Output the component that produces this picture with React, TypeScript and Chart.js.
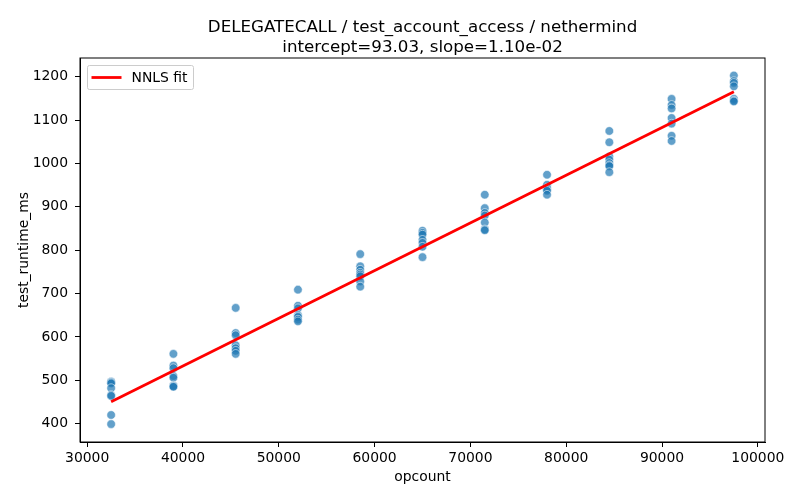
import React, { useEffect, useRef } from 'react';
import Chart from 'chart.js/auto';

// opcount levels and measured runtimes at each level (ms)
const opcountLevels = [32500, 39000, 45500, 52000, 58500, 65000, 71500, 78000, 84500, 91000, 97500];
const runtime32500 = [497, 495, 493, 482, 466, 464, 420, 399];
const runtime39000 = [561, 534, 528, 510, 506, 488, 486, 485];
const runtime45500 = [667, 609, 604, 581, 574, 568, 561];
const runtime52000 = [709, 672, 666, 651, 648, 646, 640, 636];
const runtime58500 = [791, 763, 755, 748, 744, 740, 728, 716];
const runtime65000 = [845, 840, 836, 824, 817, 808, 784];
const runtime71500 = [928, 897, 886, 880, 864, 848, 846];
const runtime78000 = [974, 951, 944, 940, 937, 928];
const runtime84500 = [1075, 1049, 1016, 1009, 1001, 996, 994, 980];
const runtime91000 = [1149, 1135, 1127, 1105, 1092, 1064, 1052];
const runtime97500 = [1203, 1190, 1186, 1178, 1149, 1145, 1143];
const runtimes = [
  runtime32500, runtime39000, runtime45500, runtime52000, runtime58500, runtime65000,
  runtime71500, runtime78000, runtime84500, runtime91000, runtime97500,
];

// NNLS fit end points
const fitX = [32500, 97500];
const fitY = [450.5, 1165.5];

const xTicks = [30000, 40000, 50000, 60000, 70000, 80000, 90000, 100000];
const yTicks = [400, 500, 600, 700, 800, 900, 1000, 1100, 1200];

const titleLines = ['DELEGATECALL / test_account_access / nethermind', 'intercept=93.03, slope=1.10e-02'];

const FONT = 'DejaVu Sans';

// matplotlib-style title over the axes, frame and legend box inside the axes
const framePlugin = {
  id: 'frame',
  afterDraw(chart: any) {
    const { ctx, chartArea: a } = chart;
    ctx.save();
    ctx.strokeStyle = '#000';
    ctx.lineWidth = 1;
    ctx.strokeRect(a.left, a.top, a.right - a.left, a.bottom - a.top);

    // title, centred on the axes
    ctx.fillStyle = '#000';
    ctx.font = `16.7px "${FONT}"`;
    ctx.textAlign = 'center';
    ctx.textBaseline = 'alphabetic';
    const cx = (a.left + a.right) / 2;
    ctx.fillText(titleLines[0], cx, 31.5);
    ctx.fillText(titleLines[1], cx, 51.5);

    // legend
    const fit = chart.data.datasets[0];
    const x = a.left + 7.5;
    const y = a.top + 7.5;
    const w = 106;
    const h = 24;
    ctx.fillStyle = 'rgba(255,255,255,0.8)';
    ctx.strokeStyle = '#cccccc';
    ctx.lineWidth = 1;
    ctx.beginPath();
    ctx.roundRect(x, y, w, h, 2);
    ctx.fill();
    ctx.stroke();
    ctx.strokeStyle = fit.borderColor;
    ctx.lineWidth = fit.borderWidth;
    ctx.beginPath();
    ctx.moveTo(x + 4, y + h / 2);
    ctx.lineTo(x + 34, y + h / 2);
    ctx.stroke();
    ctx.fillStyle = '#000';
    ctx.font = `13.9px "${FONT}"`;
    ctx.textAlign = 'left';
    ctx.textBaseline = 'middle';
    ctx.fillText(fit.label, x + 44, y + h / 2 + 1);
    ctx.restore();
  },
};

const App: React.FC = () => {
  const canvasRef = useRef<HTMLCanvasElement>(null);
  const chartRef = useRef<Chart | null>(null);

  useEffect(() => {
    document.body.style.margin = '0';
    if (!canvasRef.current) return;
    const ctx = canvasRef.current.getContext('2d');
    if (!ctx) return;

    if (chartRef.current) {
      chartRef.current.destroy();
    }

    const points: { x: number; y: number }[] = [];
    opcountLevels.forEach((level, i) => {
      runtimes[i].forEach((v) => points.push({ x: level, y: v }));
    });

    const tickFont = { family: FONT, size: 13.9 };

    chartRef.current = new Chart(ctx, {
      type: 'scatter',
      data: {
        datasets: [
          {
            type: 'line' as const,
            label: 'NNLS fit',
            data: fitX.map((x, i) => ({ x, y: fitY[i] })),
            borderColor: '#ff0000',
            borderWidth: 2.8,
            pointRadius: 0,
            order: 0,
          },
          {
            label: 'runs',
            data: points,
            backgroundColor: 'rgba(31,119,180,0.7)',
            borderColor: 'rgba(255,255,255,0.7)',
            borderWidth: 0.75,
            pointRadius: 4.3,
            order: 1,
          },
        ],
      },
      options: {
        responsive: false,
        animation: false,
        devicePixelRatio: 1,
        layout: { padding: { left: 0, right: 35, top: 58, bottom: 0 } },
        plugins: {
          legend: { display: false },
          tooltip: { enabled: false },
          title: { display: false },
        },
        scales: {
          x: {
            type: 'linear',
            min: 29250,
            max: 100750,
            afterBuildTicks: (scale: any) => {
              scale.ticks = xTicks.map((v) => ({ value: v }));
            },
            afterFit: (scale: any) => {
              scale.height = 58;
            },
            grid: { drawOnChartArea: false, drawTicks: true, tickLength: 5, color: '#000' },
            border: { color: '#000', width: 1 },
            ticks: {
              color: '#000',
              font: tickFont,
              padding: 3,
              maxRotation: 0,
              autoSkip: false,
              callback: (v: any) => String(v),
            },
            title: {
              display: true,
              text: 'opcount',
              color: '#000',
              font: { family: FONT, size: 13.9, lineHeight: 1.2 },
              padding: { top: 0, bottom: 14.7 },
            },
          },
          y: {
            type: 'linear',
            min: 357.7,
            max: 1243.3,
            afterBuildTicks: (scale: any) => {
              scale.ticks = yTicks.map((v) => ({ value: v }));
            },
            afterFit: (scale: any) => {
              scale.width = 80;
            },
            grid: { drawOnChartArea: false, drawTicks: true, tickLength: 5, color: '#000' },
            border: { color: '#000', width: 1 },
            ticks: {
              color: '#000',
              font: tickFont,
              padding: 7,
              autoSkip: false,
              callback: (v: any) => String(v),
            },
            title: {
              display: true,
              text: 'test_runtime_ms',
              color: '#000',
              font: { family: FONT, size: 13.9, lineHeight: 1.2 },
              padding: { top: 15.7, bottom: 0 },
            },
          },
        },
      },
      plugins: [framePlugin],
    });

    return () => {
      if (chartRef.current) {
        chartRef.current.destroy();
        chartRef.current = null;
      }
    };
  }, []);

  return (
    <div style={{ width: 800, height: 500, background: '#fff' }}>
      <canvas ref={canvasRef} width={800} height={500} />
    </div>
  );
};

export default App;
